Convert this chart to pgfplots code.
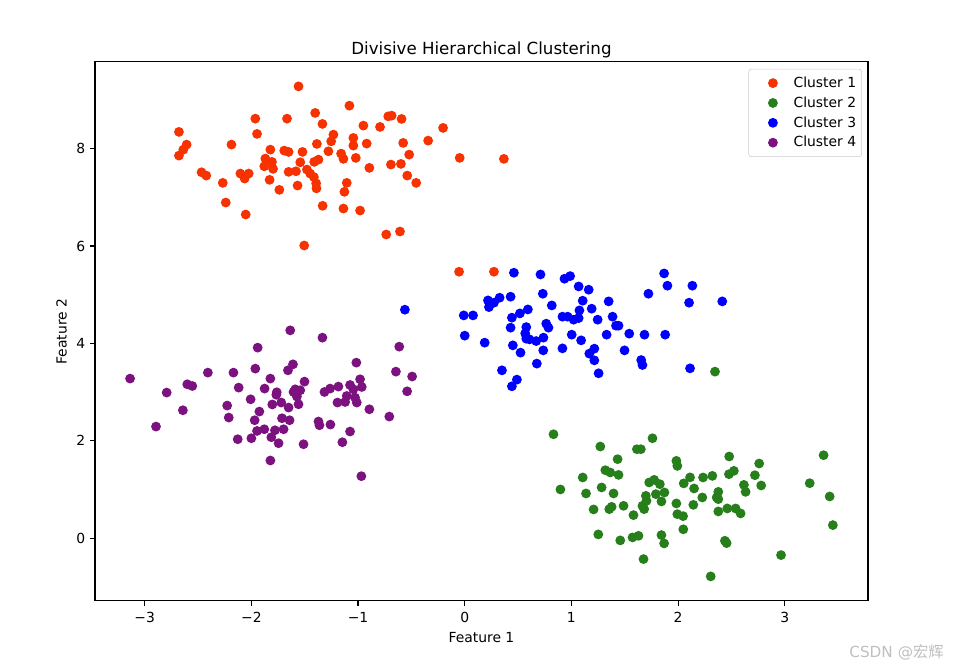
\documentclass[border=0pt]{standalone}
\usepackage{fontspec}
\setmainfont{DejaVu Sans}
\newfontfamily\cjk{Noto Sans CJK SC}
\usepackage{pgfplots}
\pgfplotsset{compat=1.18}
\usepackage{pgfplotstable}

\definecolor{c1}{RGB}{246,50,0}
\definecolor{c2}{RGB}{38,127,26}
\definecolor{c3}{RGB}{0,0,255}
\definecolor{c4}{RGB}{124,18,128}

% cluster data
\pgfplotstableread{
x y
-1.558 9.278
-1.402 8.732
-1.963 8.615
-1.666 8.615
-2.679 8.343
-1.947 8.302
-2.607 8.082
-2.638 7.979
-2.679 7.856
-2.187 8.082
-1.822 7.979
-1.692 7.959
-1.651 7.932
-1.521 7.932
-1.386 8.096
-1.869 7.795
-1.807 7.727
-1.879 7.637
-1.797 7.584
-1.542 7.719
-1.411 7.727
-1.371 7.774
-1.479 7.569
-1.449 7.487
-1.414 7.415
-1.651 7.522
-1.582 7.534
-2.467 7.514
-2.423 7.446
-2.103 7.487
-2.025 7.487
-2.063 7.385
-2.268 7.296
-1.829 7.358
-1.738 7.153
-1.567 7.241
-1.393 7.286
-1.390 7.184
-2.240 6.892
-2.053 6.646
-1.332 6.825
-1.505 6.010
-1.081 8.882
-1.334 8.507
-0.950 8.472
-0.717 8.663
-0.685 8.677
-0.592 8.609
-0.794 8.445
-0.203 8.425
-1.231 8.287
-1.252 8.150
-1.044 8.219
-1.044 8.062
-0.919 8.103
-0.577 8.117
-0.343 8.164
-1.278 7.945
-1.159 7.897
-1.137 7.789
-1.021 7.809
-0.521 7.877
-0.047 7.809
0.367 7.789
-0.894 7.604
-0.692 7.672
-0.598 7.686
-1.106 7.296
-1.128 7.112
-0.539 7.446
-0.455 7.296
-1.137 6.769
-0.981 6.728
-0.736 6.236
-0.607 6.297
-0.053 5.471
0.274 5.471
}\clusterA

\pgfplotstableread{
x y
0.832 2.133
1.760 2.051
1.271 1.881
1.614 1.826
1.651 1.826
1.433 1.621
1.984 1.586
1.993 1.483
1.318 1.395
1.364 1.348
1.442 1.298
1.106 1.245
1.729 1.143
1.776 1.196
1.829 1.108
2.053 1.124
2.112 1.247
0.897 0.999
1.283 1.040
1.137 0.917
1.395 0.917
1.792 0.903
1.872 0.937
1.698 0.868
1.704 0.765
1.666 0.663
1.682 0.595
1.844 0.753
1.984 0.712
1.489 0.663
1.208 0.589
1.355 0.595
1.377 0.642
1.582 0.472
1.993 0.492
2.047 0.451
2.049 0.181
1.252 0.076
1.458 -0.047
1.573 0.014
1.629 0.047
1.844 0.062
1.869 -0.109
1.676 -0.431
2.479 1.676
3.364 1.703
2.760 1.532
2.477 1.313
2.523 1.381
2.234 1.245
2.321 1.278
2.720 1.292
2.150 1.019
2.617 1.093
2.633 0.950
2.779 1.081
3.234 1.128
2.377 0.950
2.362 0.835
2.377 0.800
2.227 0.835
3.421 0.855
2.143 0.683
2.377 0.548
2.461 0.609
2.539 0.609
2.586 0.507
3.451 0.267
2.439 -0.055
2.455 -0.103
2.965 -0.349
2.306 -0.786
2.346 3.419
}\clusterB

\pgfplotstableread{
x y
0.461 5.450
0.710 5.415
0.935 5.327
-0.561 4.691
0.218 4.882
0.227 4.745
0.274 4.835
0.327 4.937
0.430 4.958
0.732 5.019
0.816 4.779
-0.009 4.574
0.078 4.574
0.442 4.527
0.517 4.615
0.592 4.697
0.916 4.548
0.430 4.322
0.577 4.334
0.764 4.404
0.785 4.322
0.000 4.158
0.187 4.014
0.567 4.205
0.577 4.096
0.607 4.082
0.670 4.047
0.738 4.117
0.451 3.959
0.523 3.809
0.736 3.856
0.916 3.897
0.676 3.584
0.349 3.446
0.489 3.255
0.442 3.118
1.869 5.436
0.988 5.381
1.068 5.169
1.162 5.102
1.900 5.184
2.134 5.184
1.722 5.019
1.106 4.876
1.349 4.862
2.103 4.835
2.414 4.862
1.075 4.677
1.190 4.712
0.965 4.548
1.021 4.486
1.068 4.519
1.246 4.486
1.386 4.548
1.418 4.363
1.442 4.363
1.003 4.178
1.091 4.062
1.330 4.178
1.542 4.199
1.685 4.178
1.879 4.178
1.215 3.891
1.168 3.789
1.215 3.651
1.498 3.856
1.654 3.657
1.666 3.555
1.255 3.385
2.112 3.487
}\clusterC

\pgfplotstableread{
x y
-1.941 3.912
-3.137 3.276
-2.408 3.399
-2.168 3.399
-1.963 3.481
-1.822 3.276
-2.794 2.989
-2.601 3.159
-2.554 3.124
-2.119 3.091
-1.876 3.071
-1.762 2.995
-2.007 2.851
-2.642 2.626
-2.227 2.722
-1.925 2.599
-1.804 2.745
-2.212 2.476
-1.969 2.421
-2.894 2.291
-1.947 2.201
-1.879 2.236
-1.779 2.215
-2.128 2.031
-2.000 2.051
-1.813 2.072
-1.822 1.594
-1.636 4.267
-1.334 4.117
-0.614 3.932
-1.610 3.569
-1.657 3.446
-1.016 3.604
-1.502 3.214
-0.645 3.419
-0.493 3.319
-0.981 3.262
-1.605 3.001
-1.589 3.056
-1.542 3.036
-1.573 2.907
-1.558 2.749
-1.315 3.001
-1.262 3.071
-1.184 3.112
-1.075 3.145
-1.044 3.056
-0.965 3.104
-1.106 2.919
-1.121 2.796
-1.028 2.886
-1.012 2.784
-1.193 2.784
-0.540 3.015
-1.720 2.784
-1.651 2.681
-0.894 2.646
-0.707 2.496
-1.713 2.462
-1.642 2.421
-1.371 2.394
-1.362 2.318
-1.259 2.332
-1.075 2.189
-1.698 2.236
-1.745 1.949
-1.511 1.928
-1.147 1.969
-0.969 1.272
-1.766 2.944
}\clusterD

\begin{document}
\begin{tikzpicture}
\begin{axis}[
  name=ax,
  scale only axis,
  width=556.6pt, height=388.1pt,
  xmin=-3.466, xmax=3.78,
  ymin=-1.29, ymax=9.78,
  xtick={-3,-2,-1,0,1,2,3},
  xticklabels={−3,−2,−1,0,1,2,3},
  ytick={0,2,4,6,8},
  yticklabels={0,2,4,6,8},
  xtick pos=lower, ytick pos=left,
  tick align=outside,
  major tick length=3.5pt,
  tick style={line width=0.8pt, black},
  axis line style={line width=0.8pt},
  ticklabel style={font=\fontsize{10}{12}\selectfont},
  xticklabel style={yshift=-1pt},
  /pgf/number format/assume math mode=true,
  xlabel={Feature 1},
  ylabel={Feature 2},
  label style={font=\fontsize{10}{12}\selectfont},
  title={Divisive Hierarchical Clustering},
  title style={font=\fontsize{12}{14}\selectfont, yshift=-7pt},
  legend cell align=left,
  legend image code/.code={%
    \path (0pt,0pt) (28pt,0pt);
    \draw[#1] plot coordinates {(15.3pt,0pt)};},
  legend style={at={(1,1)}, anchor=north east, xshift=-4.3pt, yshift=-5pt,
    draw=black!20, rounded corners=2pt, fill=white,
    font=\fontsize{10}{12}\selectfont,
    row sep=1.2pt, inner xsep=2pt, inner ysep=3.5pt},
  every axis plot/.append style={only marks, mark=*, mark size=3pt,
    mark options={line width=1pt}},
]
\addplot[color=c1] table[x=x,y=y] {\clusterA};
\addlegendentry{Cluster 1}
\addplot[color=c2] table[x=x,y=y] {\clusterB};
\addlegendentry{Cluster 2}
\addplot[color=c3] table[x=x,y=y] {\clusterC};
\addlegendentry{Cluster 3}
\addplot[color=c4] table[x=x,y=y] {\clusterD};
\addlegendentry{Cluster 4}
\end{axis}
\useasboundingbox ([xshift=-68.4pt,yshift=-49.7pt]ax.south west) rectangle ([xshift=63.4pt,yshift=44.6pt]ax.north east);
\node[anchor=base east, text=black!25, font=\fontsize{11}{13}\selectfont]
  at ([xshift=58pt,yshift=-41pt]ax.south east) {CSDN @{\cjk 宏辉}};
\end{tikzpicture}
\end{document}
